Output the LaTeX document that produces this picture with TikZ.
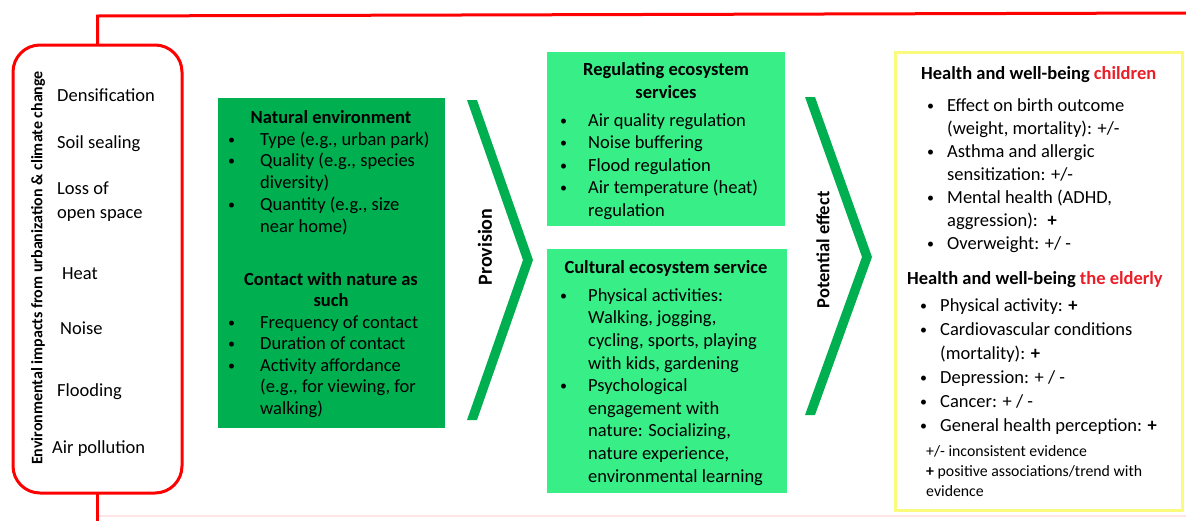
\documentclass[tikz,border=0pt]{standalone}
\usepackage{fontspec}
\setmainfont{Carlito}
\definecolor{natgreen}{RGB}{0,176,80}
\definecolor{lightgreen}{RGB}{55,238,135}
\definecolor{boxyellow}{RGB}{250,250,125}
\definecolor{lineRed}{RGB}{255,0,0}
\definecolor{hlred}{RGB}{235,30,40}
\newcommand\fl{\rule{0pt}{14pt}}
\newcommand\bu[1]{\makebox[#1][l]{\raisebox{1.2pt}{\fontsize{14}{14}\selectfont\textbullet}}}
\newcommand\ind[1]{\hspace*{#1}}
\begin{document}
\begin{tikzpicture}[x=1pt,y=-1pt,
  redline/.style={draw=lineRed, line width=3pt},
  panel/.style={inner sep=0pt, outer sep=0pt},
  item/.style={inner sep=0pt, anchor=base west, font=\fontsize{18.5}{22}\selectfont},
  body/.style={inner sep=0pt, align=left, anchor=north west},
  hd/.style={inner sep=0pt, font=\bfseries\fontsize{18.5}{22}\selectfont},
  rot/.style={inner sep=0pt, rotate=90, font=\bfseries\fontsize{18.5}{22}\selectfont},
  chev/.style={fill=natgreen, draw=none}]
\useasboundingbox (0,0) rectangle (1186,520);

% faint bottom line
\draw[lineRed!10, line width=1.5pt] (99,516) -- (1186,516);

% left red box
\node[panel, draw=lineRed, line width=3pt, rounded corners=27pt, minimum width=169pt, minimum height=448pt] (envbox) at (97.5,269) {};
\coordinate (topL) at (97.5,16);
\coordinate (topR) at (1186,13);
\coordinate (botE) at (97.5,521);
\draw[redline] (envbox.north) -- (topL) -- (topR);
\draw[redline] (envbox.south) -- (botE);

\node[rot, font=\bfseries\fontsize{16}{18}\selectfont] (envT) at (38,268) {Environmental impacts from urbanization \& climate change};
\node[item] (i1) at (57,101) {Densification};
\node[item] (i2) at (57,148) {Soil sealing};
\node[item] (i3) at (57,194) {Loss of};
\node[item] (i4) at (57,218) {open space};
\node[item] (i5) at (62,279) {Heat};
\node[item] (i6) at (60,334) {Noise};
\node[item] (i7) at (57,396) {Flooding};
\node[item] (i8) at (52,453) {Air pollution};

% dark green box
\node[panel, fill=natgreen, minimum width=227pt, minimum height=330pt] (natbox) at (331.5,263) {};
\node[hd, anchor=base] (natH) at (331,123) {Natural environment};
\node[body, font=\fontsize{18.5}{21.7}\selectfont] (natL) at (228,131) {\fl\bu{32pt}Type (e.g., urban park)\\
\bu{32pt}Quality (e.g., species\\
\ind{32pt}diversity)\\
\bu{32pt}Quantity (e.g., size\\
\ind{32pt}near home)};
\node[hd, align=center, anchor=north, font=\bfseries\fontsize{18.5}{21.5}\selectfont] (conH) at (331,271) {\fl Contact with nature as\\ such};
\node[body, font=\fontsize{18.5}{21.5}\selectfont] (conL) at (228,314) {\fl\bu{32pt}Frequency of contact\\
\bu{32pt}Duration of contact\\
\bu{32pt}Activity affordance\\
\ind{32pt}(e.g., for viewing, for\\
\ind{32pt}walking)};

% provision chevron
\fill[chev] (467,100) -- (477,100) -- (533,260) -- (477,420) -- (467,420) -- (523,260) -- cycle;
\node[rot, font=\bfseries\fontsize{20}{22}\selectfont] (prov) at (485,247) {Provision};

% regulating box
\node[panel, fill=lightgreen, minimum width=238pt, minimum height=174pt] (regbox) at (666,139) {};
\node[hd, align=center, anchor=north, font=\bfseries\fontsize{18.5}{23}\selectfont] (regH) at (666,61) {\fl Regulating ecosystem\\ services};
\node[body, font=\fontsize{18.5}{22.5}\selectfont] (regL) at (560,112) {\fl\bu{28pt}Air quality regulation\\
\bu{28pt}Noise buffering\\
\bu{28pt}Flood regulation\\
\bu{28pt}Air temperature (heat)\\
\ind{28pt}regulation};

% cultural box
\node[panel, fill=lightgreen, minimum width=240pt, minimum height=244pt] (culbox) at (667,371) {};
\node[hd, anchor=base] (culH) at (666,273) {Cultural ecosystem service};
\node[body, font=\fontsize{18.5}{22.6}\selectfont] (culL) at (560,287) {\fl\bu{28pt}Physical activities:\\
\ind{28pt}Walking, jogging,\\
\ind{28pt}cycling, sports, playing\\
\ind{28pt}with kids, gardening\\
\bu{28pt}Psychological\\
\ind{28pt}engagement with\\
\ind{28pt}nature: Socializing,\\
\ind{28pt}nature experience,\\
\ind{28pt}environmental learning};

% potential effect chevron
\fill[chev] (805,97) -- (815,97) -- (872,257) -- (815,415) -- (805,415) -- (862,257) -- cycle;
\node[rot] (pot) at (823,250) {Potential effect};

% yellow box
\node[panel, draw=boxyellow, line width=3pt, minimum width=287pt, minimum height=458pt] (ybox) at (1038.5,281) {};
\node[hd, anchor=base west] (chH) at (921,79) {Health and well-being \textcolor{hlred}{children}};
\node[body, font=\fontsize{18.5}{23}\selectfont] (chL) at (927,97) {\fl\bu{20pt}Effect on birth outcome\\
\ind{20pt}(weight, mortality): +/-\\
\bu{20pt}Asthma and allergic\\
\ind{20pt}sensitization: +/-\\
\bu{20pt}Mental health (ADHD,\\
\ind{20pt}aggression): \ \textbf{+}\\
\bu{20pt}Overweight: +/ -};
\node[hd, anchor=base west] (elH) at (907,284) {Health and well-being \textcolor{hlred}{the elderly}};
\node[body, font=\fontsize{18.5}{24}\selectfont] (elL) at (920,297) {\fl\bu{20pt}Physical activity: \textbf{+}\\
\bu{20pt}Cardiovascular conditions\\
\ind{20pt}(mortality): \textbf{+}\\
\bu{20pt}Depression: + / -\\
\bu{20pt}Cancer: + / -\\
\bu{20pt}General health perception: \textbf{+}};
\node[body, font=\fontsize{15.8}{20}\selectfont] (note) at (926,442) {\fl +/- inconsistent evidence\\
\textbf{+} positive associations/trend with\\
evidence};
\end{tikzpicture}
\end{document}
